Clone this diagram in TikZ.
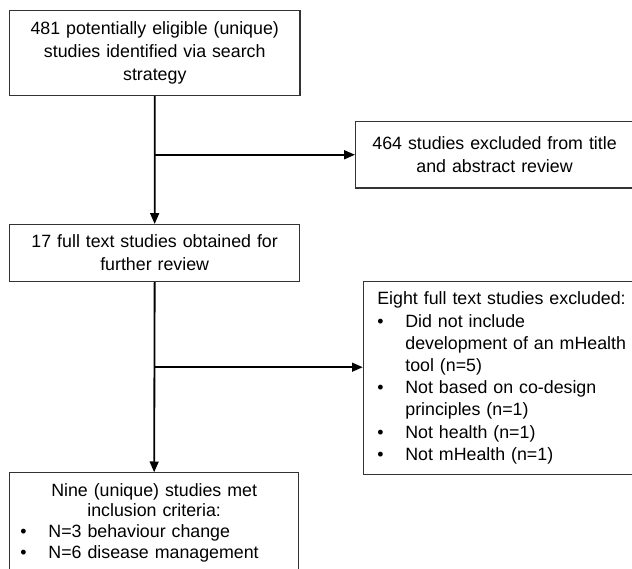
\documentclass[tikz,border=0pt]{standalone}
\usepackage{fontspec}
\setmainfont{Liberation Sans}
\usetikzlibrary{arrows.meta}

\newcommand{\bul}{\makebox[0.7cm][l]{\textbullet}}
\newcommand{\bulskip}{\hspace*{0.7cm}}

\begin{document}
\begin{tikzpicture}[
  box/.style={draw=black!80, line width=0.8pt, inner xsep=0pt, inner ysep=0.26cm,
    font=\fontsize{12.66}{16.4}\selectfont},
  flow/.style={-{Triangle[length=2.7mm,width=2.2mm]}, line width=1.3pt}
]
  \useasboundingbox (0,0) rectangle (15.8,14.2);

  \node[box, anchor=north west, minimum width=7.26cm, minimum height=2.12cm, text width=7.26cm, align=center] (search) at (0.225,13.95) {481 potentially eligible (unique)\\studies identified via search\\strategy};
  \node[box, anchor=north west, minimum width=6.95cm, minimum height=1.66cm, text width=6.95cm, align=center] (excl1) at (8.875,11.175) {464 studies excluded from title\\and abstract review};
  \node[box, anchor=north west, minimum width=7.26cm, minimum height=1.425cm, text width=7.26cm, align=center] (fulltext) at (0.2225,8.6) {17 full text studies obtained for\\further review};

  \node[box, anchor=north west, minimum height=4.75cm, inner xsep=0.35cm, text width=6.6cm, align=left,
    font=\fontsize{12.66}{15.8}\selectfont] (excl2) at (9.07,7.175) {Eight full text studies excluded:\\
    \bul Did not include\\
    \bulskip development of an mHealth\\
    \bulskip tool (n=5)\\
    \bul Not based on co-design\\
    \bulskip principles (n=1)\\
    \bul Not health (n=1)\\
    \bul Not mHealth (n=1)};

  \node[box, anchor=north west, inner xsep=0.275cm, text width=6.685cm, align=left,
    font=\fontsize{12.66}{14.8}\selectfont] (included) at (0.2225,2.3925) {\makebox[\linewidth]{Nine (unique) studies met}\\
    \makebox[\linewidth]{inclusion criteria:}\\
    \bul N=3 behaviour change\\
    \bul N=6 disease management};

  \coordinate (split) at (3.8,5.02);

  \draw[flow] (search.south) -- (fulltext.north);
  \draw[flow] (search.south |- excl1.west) -- (excl1.west);
  \draw[flow] (fulltext.south) -- (included.north);
  \draw[flow] (fulltext.south |- split) -- (excl2.west |- split);

\end{tikzpicture}
\end{document}
